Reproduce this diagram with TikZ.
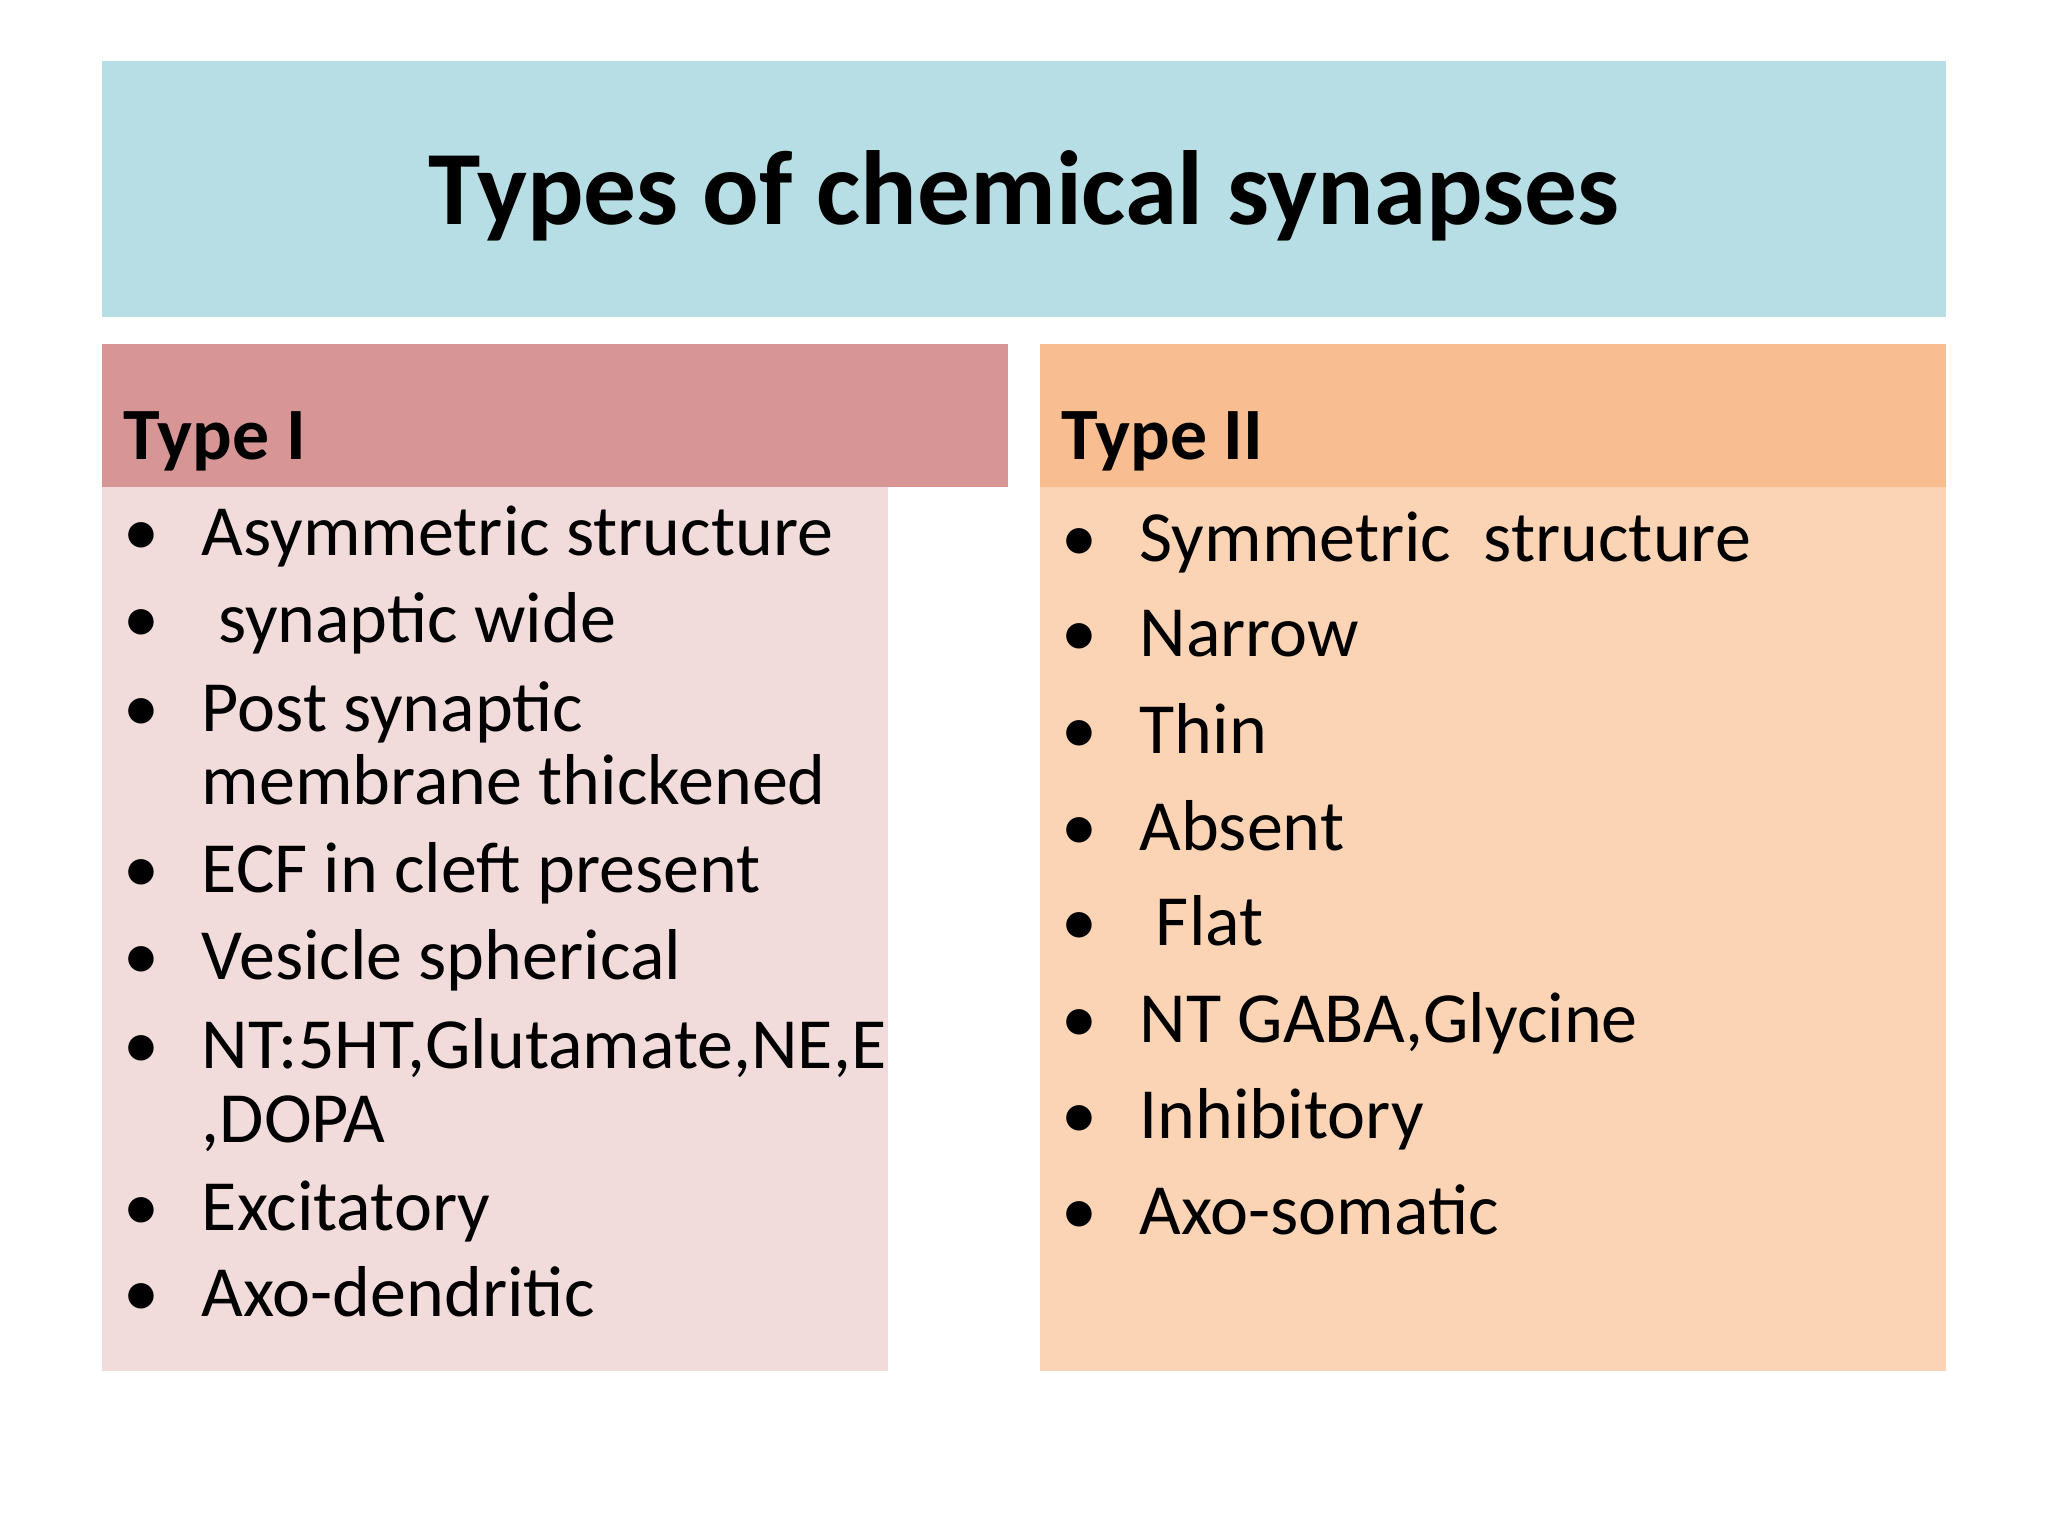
\documentclass[tikz,border=0pt]{standalone}
\usepackage{fontspec}
\setmainfont{Carlito}
\definecolor{titlebg}{HTML}{B7DEE5}
\definecolor{hdrA}{HTML}{D79595}
\definecolor{bodyA}{HTML}{F2DCDB}
\definecolor{hdrB}{HTML}{F8BD90}
\definecolor{bodyB}{HTML}{FAD4B4}
\tikzset{
  item/.style={anchor=base west,inner sep=0pt,font=\fontsize{20.5}{24}\selectfont},
  hdr/.style={anchor=base west,inner sep=0pt,font=\fontsize{21}{25}\selectfont\bfseries},
}
\begin{document}
\begin{tikzpicture}[x=0.013061cm,y=-0.013061cm]
\useasboundingbox (0,0) rectangle (1568,1176);
\fill[white] (0,0) rectangle (1568,1176);
\fill[titlebg] (78,47) rectangle (1490,243);
\node[inner sep=0pt,anchor=base,font=\fontsize{30}{36}\selectfont\bfseries] (title) at (784,172) {Types of chemical synapses};
\fill[hdrA] (78,263) rectangle (772,373);
\fill[bodyA] (78,373) rectangle (680,1050);
\fill[hdrB] (796,263) rectangle (1490,373);
\fill[bodyB] (796,373) rectangle (1490,1050);
\node[hdr] (h1) at (94,352) {Type I};
\node[hdr] (h2) at (812,352) {Type II};
\foreach \y/\t [count=\i] in {425/Asymmetric structure, 492/{\ synaptic wide}, 560/Post synaptic, 683/ECF in cleft present, 750/Vesicle spherical, 818/{NT:5HT,Glutamate,NE,E}, 942/Excitatory, 1008/Axo-dendritic}{
  \node[item] (lb\i) at (94,\y) {\textbullet};
  \node[item] (lt\i) at (154,\y) {\t};
}
\node[item] (lt3b) at (154,616) {membrane thickened};
\node[item] (lt6b) at (154,875) {,DOPA};
\foreach \y/\t [count=\i] in {430/{Symmetric\ \ structure}, 503/Narrow, 577/Thin, 651/Absent, 724/{\ Flat}, 798/{NT GABA,Glycine}, 872/Inhibitory, 945/Axo-somatic}{
  \node[item] (rb\i) at (812,\y) {\textbullet};
  \node[item] (rt\i) at (872,\y) {\t};
}
\end{tikzpicture}
\end{document}
